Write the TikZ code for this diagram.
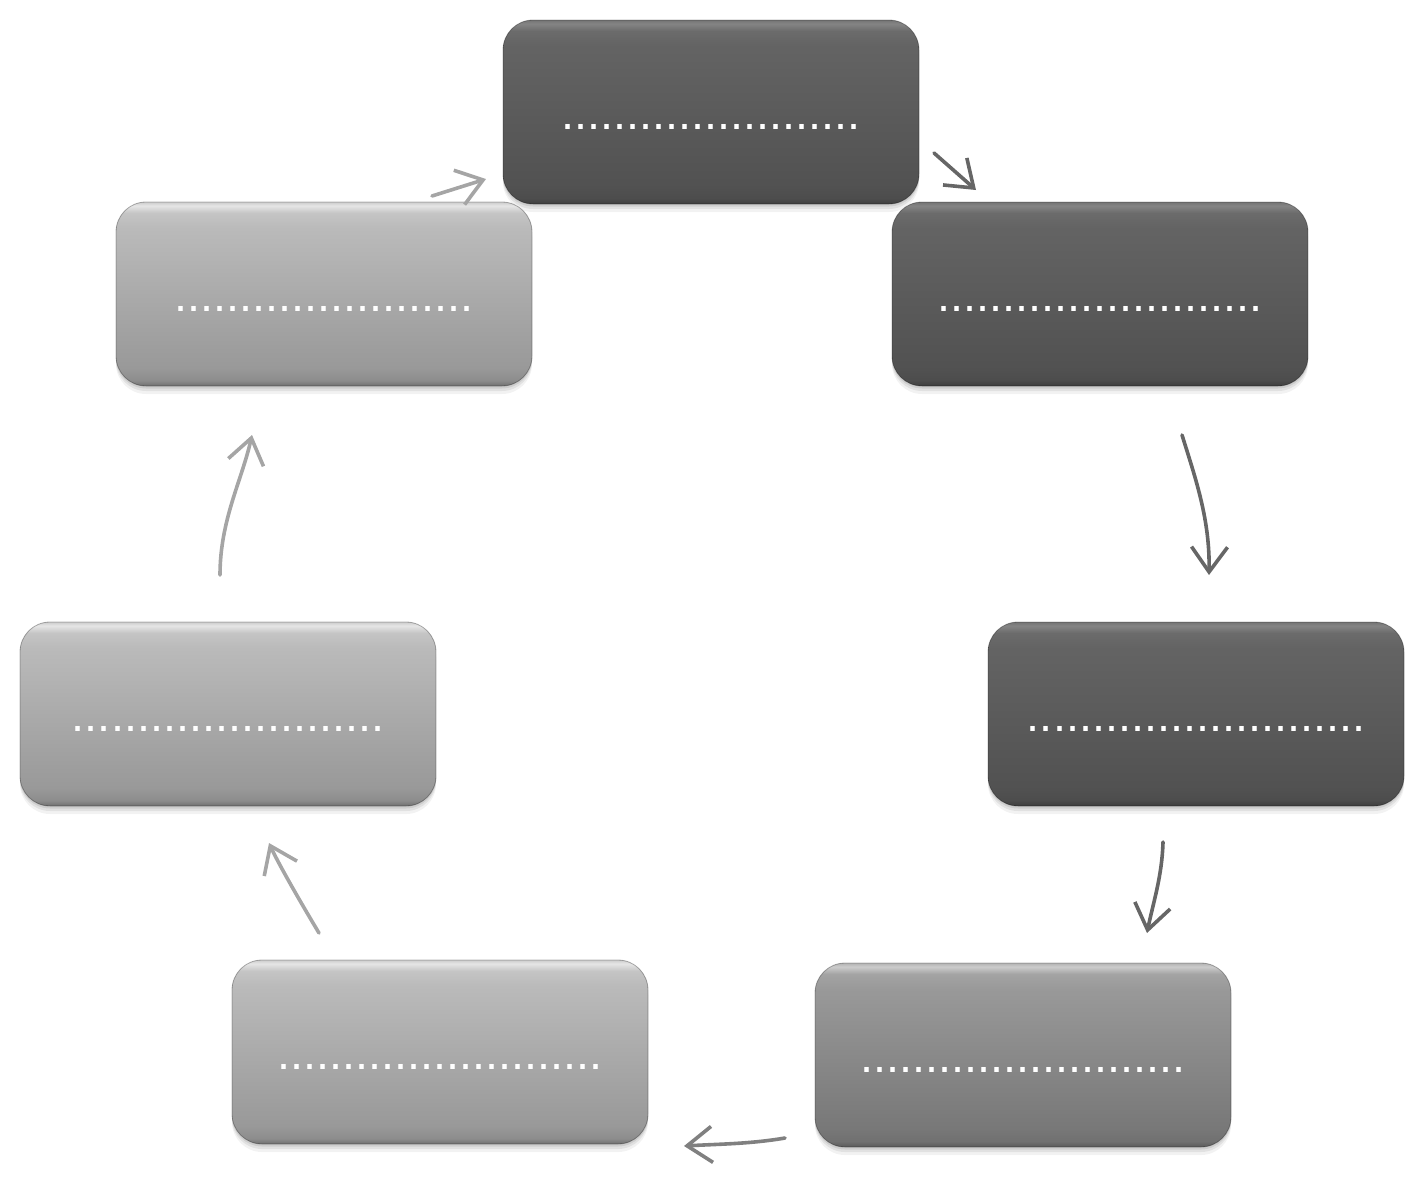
\documentclass[tikz,border=0pt]{standalone}
\usepackage{fontspec}
\newfontfamily\dotfont{Liberation Sans}
\usetikzlibrary{arrows.meta,shadows}
\pgfdeclareverticalshading{darkbox}{100bp}{gray(0bp)=(0.24); gray(25bp)=(0.24); gray(26.5bp)=(0.30); gray(30bp)=(0.32); gray(68bp)=(0.39); gray(72bp)=(0.42); gray(74bp)=(0.52); gray(75bp)=(0.45); gray(100bp)=(0.45)}
\pgfdeclareverticalshading{midbox}{100bp}{gray(0bp)=(0.35); gray(25bp)=(0.35); gray(26.5bp)=(0.44); gray(30bp)=(0.47); gray(68bp)=(0.60); gray(72bp)=(0.64); gray(74bp)=(0.80); gray(75bp)=(0.70); gray(100bp)=(0.70)}
\pgfdeclareverticalshading{lightbox}{100bp}{gray(0bp)=(0.44); gray(25bp)=(0.44); gray(26.5bp)=(0.55); gray(30bp)=(0.60); gray(68bp)=(0.73); gray(72bp)=(0.77); gray(74bp)=(0.90); gray(75bp)=(0.80); gray(100bp)=(0.80)}
\definecolor{arrdark}{HTML}{666666}
\definecolor{arrmid}{HTML}{808080}
\definecolor{arrlight}{HTML}{A5A5A5}
\tikzset{
  boxbase/.style={rectangle, rounded corners=30pt, minimum width=416pt, minimum height=184pt,
    inner sep=0pt, draw=black, draw opacity=0.3, line width=0.8pt,
    font={\fontsize{46.8}{50}\selectfont\dotfont}, text=white,
    drop shadow={shadow xshift=0pt, shadow yshift=-8pt, opacity=0.10},
    drop shadow={shadow xshift=0pt, shadow yshift=-5pt, opacity=0.15},
    drop shadow={shadow xshift=0pt, shadow yshift=-2.5pt, opacity=0.2}},
  darkstep/.style={boxbase, shading=darkbox},
  midstep/.style={boxbase, shading=midbox},
  lightstep/.style={boxbase, shading=lightbox},
  flow/.style={line width=3.6pt, line cap=round, line join=round,
    -{Straight Barb[length=25pt,width=36pt,line width=3.6pt]}},
}
\newcommand{\dl}[1]{\raisebox{-17pt}[0pt][0pt]{#1}}
\begin{document}
\begin{tikzpicture}[x=1pt,y=-1pt]
\useasboundingbox (0,0) rectangle (1424,1181);
\node[darkstep]  (b1) at (711,112)  {\dl{.......................}};
\node[darkstep]  (b2) at (1100,294) {\dl{.........................}};
\node[darkstep]  (b3) at (1196,714) {\dl{..........................}};
\node[midstep]   (b4) at (1023,1055) {\dl{.........................}};
\node[lightstep] (b5) at (440,1052) {\dl{.........................}};
\node[lightstep] (b6) at (228,714)  {\dl{........................}};
\node[lightstep] (b7) at (324,294)  {\dl{.......................}};

\coordinate (a1s) at (934,153);  \coordinate (a1e) at (976,190);
\coordinate (a2s) at (1182,435); \coordinate (a2e) at (1209,575);
\coordinate (a3s) at (1163,842); \coordinate (a3e) at (1147,933);
\coordinate (a4s) at (785,1138); \coordinate (a4e) at (684,1146);
\coordinate (a5s) at (319,933);  \coordinate (a5e) at (269,843);
\coordinate (a6s) at (220,575);  \coordinate (a6e) at (252,435);
\coordinate (a7s) at (432,196);  \coordinate (a7e) at (486,179);

\draw[flow, arrdark]  (a1s) -- (a1e);
\draw[flow, arrdark]  (a2s) .. controls +(14,45) and +(1,-55) .. (a2e);
\draw[flow, arrdark]  (a3s) .. controls +(-1,35) and +(6,-30) .. (a3e);
\draw[flow, arrmid]   (a4s) .. controls +(-35,6) and +(35,-2) .. (a4e);
\draw[flow, arrlight] (a5s) .. controls +(-15,-25) and +(10,22) .. (a5e);
\draw[flow, arrlight] (a6s) .. controls +(0,-55) and +(-10,45) .. (a6e);
\draw[flow, arrlight] (a7s) -- (a7e);
\end{tikzpicture}
\end{document}
